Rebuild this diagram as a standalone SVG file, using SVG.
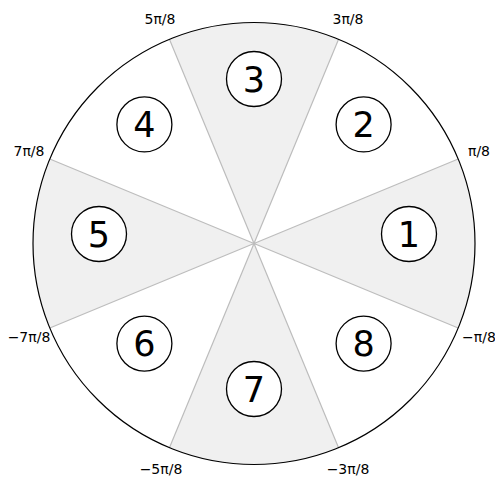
<svg xmlns="http://www.w3.org/2000/svg" width="495" height="479" viewBox="0 0 495 479">
<style>
.wedge{fill:#f0f0f0;stroke:none}
.spoke{stroke:#bdbdbd;stroke-width:1.2;fill:none}
.rim{fill:none;stroke:#000;stroke-width:1.2}
.node circle{fill:#fff;stroke:#000;stroke-width:1.3}
.node text{font-family:"DejaVu Sans",sans-serif;font-size:35px;text-anchor:middle;fill:#000}
.lbl{font-family:"DejaVu Sans",sans-serif;font-size:14px;text-anchor:middle;fill:#000}
</style>
<rect width="495" height="479" fill="#fff"/>
<g id="sectors">
<path class="wedge" d="M254,243.5 L458.18,328.07 A221,221 0 0 0 458.18,158.93 Z"/>
<path class="wedge" d="M254,243.5 L338.57,39.32 A221,221 0 0 0 169.43,39.32 Z"/>
<path class="wedge" d="M254,243.5 L49.82,158.93 A221,221 0 0 0 49.82,328.07 Z"/>
<path class="wedge" d="M254,243.5 L169.43,447.68 A221,221 0 0 0 338.57,447.68 Z"/>
</g>
<g id="connectors">
<path class="spoke" d="M254,243.5 L458.18,158.93 M254,243.5 L338.57,39.32 M254,243.5 L169.43,39.32 M254,243.5 L49.82,158.93 M254,243.5 L49.82,328.07 M254,243.5 L169.43,447.68 M254,243.5 L338.57,447.68 M254,243.5 L458.18,328.07"/>
</g>
<circle class="rim" cx="254" cy="243.5" r="221"/>
<g id="labels">
<text class="lbl" x="479" y="156">π/8</text>
<text class="lbl" x="348" y="23.5">3π/8</text>
<text class="lbl" x="160" y="23.5">5π/8</text>
<text class="lbl" x="29" y="156">7π/8</text>
<text class="lbl" x="29" y="341.5">−7π/8</text>
<text class="lbl" x="161" y="473.5">−5π/8</text>
<text class="lbl" x="348" y="473.5">−3π/8</text>
<text class="lbl" x="479" y="341.5">−π/8</text>
</g>
<g id="node1" class="node"><circle cx="409" cy="234" r="27.5"/><text x="409" y="246.7">1</text></g>
<g id="node2" class="node"><circle cx="363.6" cy="124.4" r="27.5"/><text x="363.6" y="137.1">2</text></g>
<g id="node3" class="node"><circle cx="254" cy="79" r="27.5"/><text x="254" y="91.7">3</text></g>
<g id="node4" class="node"><circle cx="144.4" cy="124.4" r="27.5"/><text x="144.4" y="137.1">4</text></g>
<g id="node5" class="node"><circle cx="99" cy="234" r="27.5"/><text x="99" y="246.7">5</text></g>
<g id="node6" class="node"><circle cx="144.4" cy="343.6" r="27.5"/><text x="144.4" y="356.3">6</text></g>
<g id="node7" class="node"><circle cx="254" cy="389" r="27.5"/><text x="254" y="401.7">7</text></g>
<g id="node8" class="node"><circle cx="363.6" cy="343.6" r="27.5"/><text x="363.6" y="356.3">8</text></g>
</svg>
